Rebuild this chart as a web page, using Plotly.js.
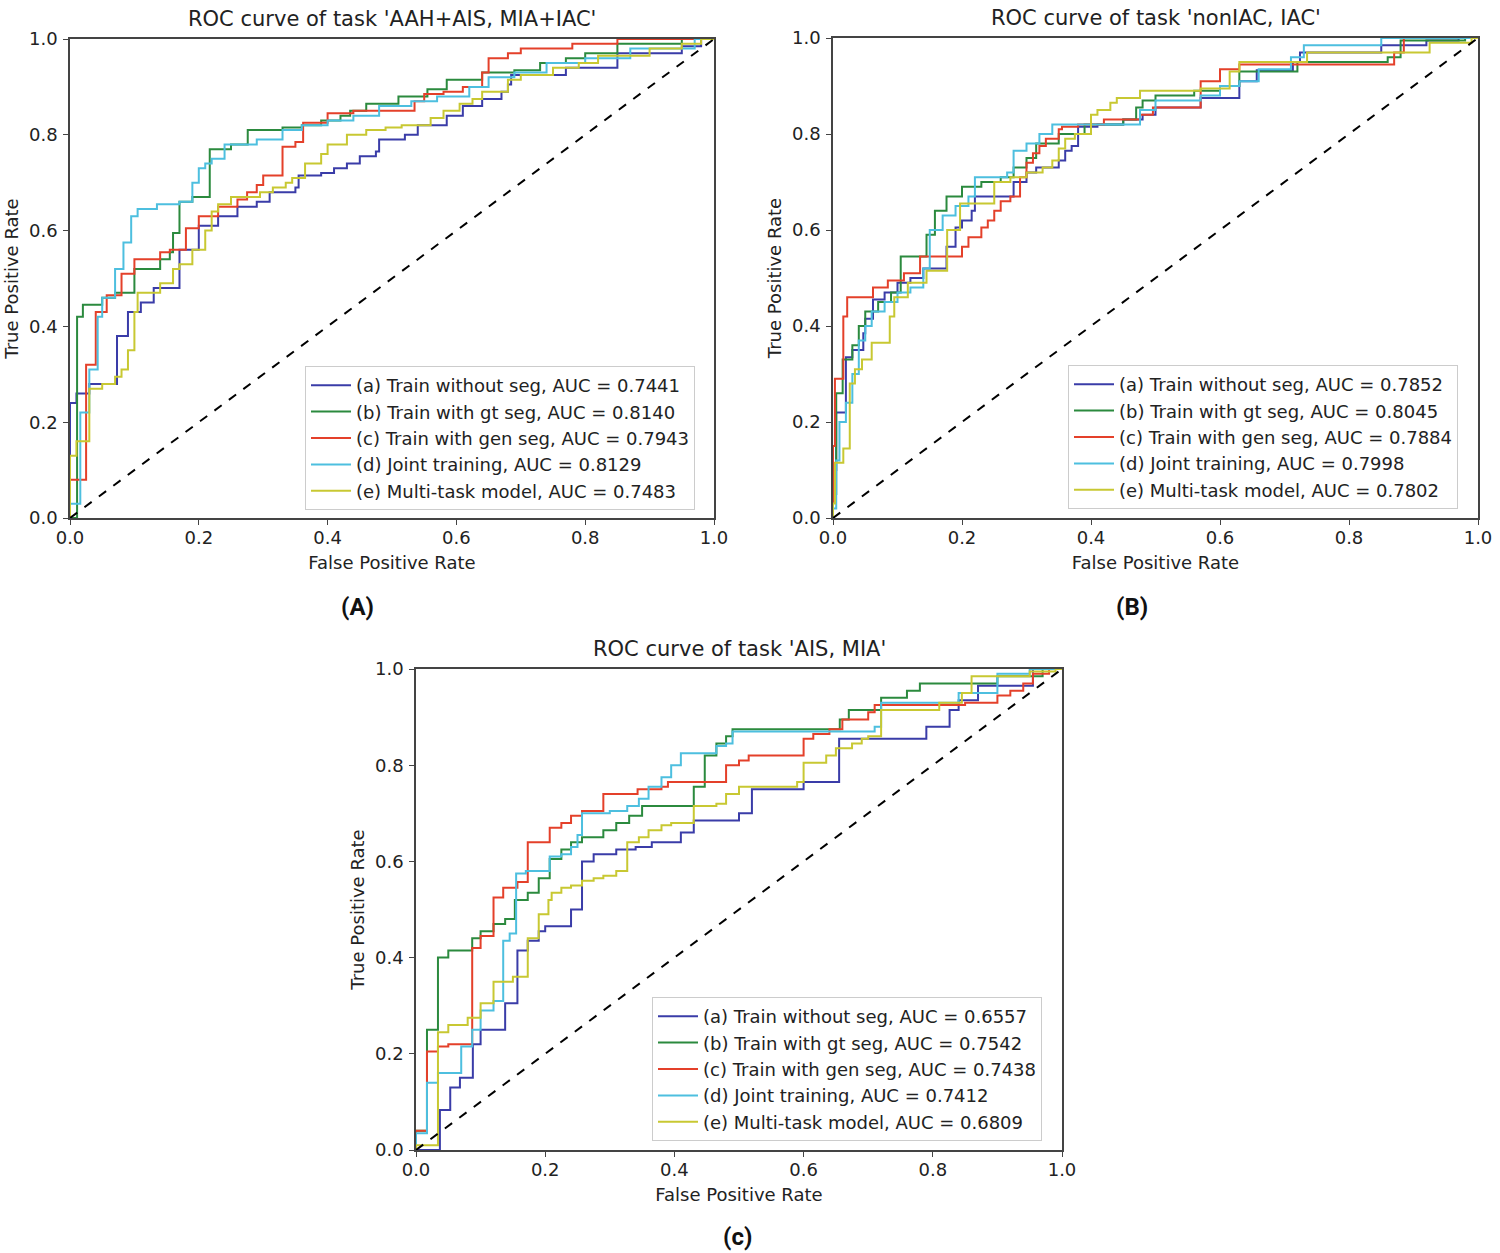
<!DOCTYPE html>
<html>
<head>
<meta charset="utf-8">
<script src="https://cdn.plot.ly/plotly-3.0.1.min.js"></script>
<style>
    body { margin: 0; background: #fff; }
    #chart { width: 1500px; height: 1253px; }
</style>
</head>
<body>
<div id="chart"></div>
<script>
// Tick labels shared by every axis
const tickVals = [0, 0.2, 0.4, 0.6, 0.8, 1.0];
const tickText = ["0.0", "0.2", "0.4", "0.6", "0.8", "1.0"];

// Chance line
const diagX = [0, 1];
const diagY = [0, 1];

// Panel titles and captions
const panelTitles = ["ROC curve of task 'AAH+AIS, MIA+IAC'", "ROC curve of task 'nonIAC, IAC'", "ROC curve of task 'AIS, MIA'"];
const panelCaptions = ["(A)", "(B)", "(c)"];
const modelNames = ["(a) Train without seg", "(b) Train with gt seg", "(c) Train with gen seg", "(d) Joint training", "(e) Multi-task model"];

// AUC values read from the legends
const aucA = ["0.7441", "0.8140", "0.7943", "0.8129", "0.7483"];
const aucB = ["0.7852", "0.8045", "0.7884", "0.7998", "0.7802"];
const aucC = ["0.6557", "0.7542", "0.7438", "0.7412", "0.6809"];

// Panel A: 'AAH+AIS, MIA+IAC'  (step points: x where the curve jumps, y after the jump)
const fprA_a = [0, 0, 0.01, 0.03, 0.073, 0.09, 0.11, 0.13, 0.17, 0.20, 0.23, 0.26, 0.29, 0.31, 0.35, 0.355, 0.39, 0.41, 0.43, 0.45, 0.475, 0.48, 0.52, 0.54, 0.585, 0.61, 0.64, 0.67, 0.68, 0.685, 0.77, 0.85, 0.95, 0.98, 1];
const tprA_a = [0, 0.24, 0.26, 0.28, 0.38, 0.43, 0.45, 0.48, 0.56, 0.61, 0.63, 0.65, 0.66, 0.68, 0.69, 0.715, 0.72, 0.73, 0.74, 0.755, 0.765, 0.79, 0.80, 0.82, 0.84, 0.86, 0.875, 0.89, 0.905, 0.925, 0.94, 0.97, 0.985, 1.0, 1];
const fprA_b = [0, 0.011, 0.02, 0.05, 0.07, 0.10, 0.14, 0.155, 0.16, 0.17, 0.19, 0.217, 0.25, 0.276, 0.33, 0.36, 0.39, 0.42, 0.435, 0.46, 0.51, 0.555, 0.585, 0.64, 0.69, 0.73, 0.77, 0.80, 0.85, 0.95, 1];
const tprA_b = [0, 0.42, 0.445, 0.46, 0.47, 0.52, 0.54, 0.555, 0.595, 0.66, 0.67, 0.77, 0.78, 0.81, 0.815, 0.82, 0.83, 0.84, 0.85, 0.865, 0.88, 0.895, 0.915, 0.93, 0.935, 0.95, 0.96, 0.97, 0.99, 1.0, 1];
const fprA_c = [0, 0, 0.025, 0.04, 0.057, 0.08, 0.10, 0.14, 0.155, 0.18, 0.20, 0.23, 0.26, 0.275, 0.29, 0.30, 0.33, 0.35, 0.362, 0.40, 0.44, 0.535, 0.55, 0.58, 0.61, 0.64, 0.65, 0.68, 0.70, 0.78, 0.85, 1];
const tprA_c = [0, 0.08, 0.32, 0.43, 0.465, 0.51, 0.54, 0.555, 0.56, 0.605, 0.63, 0.65, 0.665, 0.68, 0.695, 0.715, 0.775, 0.785, 0.825, 0.845, 0.85, 0.87, 0.885, 0.89, 0.90, 0.93, 0.96, 0.97, 0.98, 0.99, 1.0, 1];
const fprA_d = [0, 0, 0.016, 0.03, 0.043, 0.05, 0.07, 0.083, 0.095, 0.105, 0.135, 0.17, 0.19, 0.20, 0.21, 0.22, 0.24, 0.29, 0.33, 0.36, 0.40, 0.44, 0.48, 0.53, 0.57, 0.62, 0.65, 0.69, 0.74, 0.80, 0.87, 0.97, 1];
const tprA_d = [0, 0.03, 0.22, 0.31, 0.42, 0.46, 0.52, 0.575, 0.63, 0.645, 0.655, 0.66, 0.70, 0.73, 0.74, 0.75, 0.78, 0.79, 0.81, 0.82, 0.83, 0.84, 0.86, 0.87, 0.88, 0.90, 0.92, 0.93, 0.95, 0.96, 0.98, 1.0, 1];
const fprA_e = [0, 0, 0.01, 0.03, 0.05, 0.07, 0.08, 0.09, 0.10, 0.105, 0.14, 0.16, 0.17, 0.19, 0.21, 0.22, 0.23, 0.25, 0.295, 0.315, 0.335, 0.345, 0.365, 0.39, 0.40, 0.43, 0.46, 0.49, 0.515, 0.56, 0.58, 0.605, 0.625, 0.64, 0.68, 0.70, 0.75, 0.79, 0.82, 0.90, 0.95, 0.98, 1];
const tprA_e = [0, 0.13, 0.16, 0.27, 0.28, 0.295, 0.31, 0.35, 0.43, 0.47, 0.49, 0.52, 0.53, 0.56, 0.60, 0.64, 0.655, 0.67, 0.68, 0.69, 0.70, 0.71, 0.74, 0.76, 0.78, 0.80, 0.81, 0.815, 0.82, 0.835, 0.85, 0.865, 0.875, 0.89, 0.915, 0.925, 0.94, 0.95, 0.965, 0.98, 0.99, 1.0, 1];

// Panel B: 'nonIAC, IAC'
const fprB_a = [0, 0, 0.005, 0.02, 0.03, 0.047, 0.05, 0.062, 0.08, 0.10, 0.12, 0.14, 0.176, 0.19, 0.20, 0.215, 0.22, 0.28, 0.30, 0.315, 0.35, 0.36, 0.37, 0.38, 0.41, 0.45, 0.48, 0.50, 0.57, 0.63, 0.657, 0.713, 0.724, 0.85, 0.92, 0.97, 1];
const tprB_a = [0, 0.10, 0.22, 0.335, 0.35, 0.385, 0.415, 0.455, 0.47, 0.49, 0.50, 0.52, 0.565, 0.605, 0.62, 0.64, 0.67, 0.70, 0.72, 0.73, 0.745, 0.765, 0.775, 0.815, 0.82, 0.83, 0.84, 0.855, 0.875, 0.91, 0.933, 0.95, 0.97, 0.985, 0.995, 1.0, 1];
const fprB_b = [0, 0, 0.005, 0.015, 0.03, 0.04, 0.05, 0.07, 0.09, 0.105, 0.145, 0.158, 0.176, 0.20, 0.23, 0.26, 0.28, 0.30, 0.315, 0.35, 0.39, 0.45, 0.47, 0.48, 0.50, 0.56, 0.60, 0.63, 0.72, 0.86, 0.88, 0.98, 1];
const tprB_b = [0, 0.05, 0.26, 0.33, 0.36, 0.40, 0.43, 0.45, 0.47, 0.545, 0.59, 0.64, 0.67, 0.69, 0.70, 0.71, 0.73, 0.75, 0.78, 0.80, 0.82, 0.83, 0.855, 0.87, 0.88, 0.89, 0.90, 0.93, 0.95, 0.96, 0.995, 1.0, 1];
const fprB_c = [0, 0, 0.003, 0.016, 0.022, 0.062, 0.085, 0.11, 0.135, 0.20, 0.21, 0.23, 0.24, 0.25, 0.26, 0.275, 0.29, 0.30, 0.31, 0.32, 0.33, 0.35, 0.355, 0.38, 0.42, 0.476, 0.496, 0.57, 0.60, 0.63, 0.87, 0.885, 1];
const tprB_c = [0, 0.15, 0.29, 0.42, 0.46, 0.48, 0.495, 0.51, 0.545, 0.565, 0.585, 0.605, 0.62, 0.64, 0.66, 0.67, 0.71, 0.74, 0.76, 0.775, 0.79, 0.81, 0.815, 0.82, 0.83, 0.84, 0.855, 0.91, 0.935, 0.945, 0.97, 1.0, 1];
const fprB_d = [0, 0, 0.005, 0.01, 0.02, 0.03, 0.04, 0.05, 0.06, 0.08, 0.10, 0.12, 0.14, 0.15, 0.17, 0.19, 0.21, 0.22, 0.27, 0.28, 0.30, 0.32, 0.34, 0.476, 0.50, 0.57, 0.60, 0.63, 0.66, 0.71, 0.73, 0.85, 1];
const tprB_d = [0, 0.02, 0.12, 0.20, 0.24, 0.30, 0.37, 0.40, 0.43, 0.45, 0.47, 0.48, 0.52, 0.60, 0.63, 0.65, 0.67, 0.71, 0.72, 0.765, 0.78, 0.80, 0.82, 0.85, 0.87, 0.88, 0.90, 0.91, 0.935, 0.96, 0.985, 1.0, 1];
const fprB_e = [0, 0, 0.003, 0.016, 0.026, 0.034, 0.045, 0.06, 0.088, 0.095, 0.116, 0.145, 0.177, 0.197, 0.25, 0.275, 0.30, 0.325, 0.34, 0.35, 0.36, 0.375, 0.40, 0.41, 0.43, 0.44, 0.476, 0.57, 0.615, 0.63, 0.735, 0.925, 0.99, 1];
const tprB_e = [0, 0.03, 0.115, 0.145, 0.28, 0.31, 0.33, 0.365, 0.42, 0.46, 0.49, 0.515, 0.60, 0.655, 0.70, 0.71, 0.72, 0.73, 0.745, 0.77, 0.79, 0.80, 0.84, 0.85, 0.865, 0.875, 0.89, 0.895, 0.93, 0.95, 0.97, 0.99, 1.0, 1];

// Panel C: 'AIS, MIA'
const fprC_a = [0, 0.037, 0.053, 0.068, 0.088, 0.10, 0.138, 0.157, 0.173, 0.19, 0.20, 0.24, 0.257, 0.275, 0.31, 0.34, 0.365, 0.41, 0.43, 0.50, 0.52, 0.60, 0.655, 0.79, 0.826, 0.84, 0.87, 0.955, 1];
const tprC_a = [0, 0.083, 0.13, 0.15, 0.22, 0.25, 0.305, 0.415, 0.435, 0.455, 0.465, 0.50, 0.60, 0.615, 0.625, 0.63, 0.64, 0.66, 0.685, 0.70, 0.75, 0.765, 0.855, 0.88, 0.915, 0.935, 0.965, 1.0, 1];
const fprC_b = [0, 0, 0.017, 0.034, 0.05, 0.087, 0.10, 0.12, 0.138, 0.153, 0.173, 0.19, 0.207, 0.225, 0.24, 0.257, 0.29, 0.31, 0.33, 0.35, 0.43, 0.447, 0.465, 0.48, 0.49, 0.656, 0.67, 0.72, 0.76, 0.78, 0.90, 0.97, 1];
const tprC_b = [0, 0.04, 0.25, 0.40, 0.415, 0.44, 0.455, 0.47, 0.48, 0.52, 0.535, 0.565, 0.605, 0.625, 0.64, 0.65, 0.665, 0.68, 0.695, 0.715, 0.755, 0.82, 0.845, 0.86, 0.875, 0.895, 0.915, 0.94, 0.955, 0.97, 0.985, 1.0, 1];
const fprC_c = [0, 0, 0.017, 0.034, 0.05, 0.087, 0.10, 0.12, 0.135, 0.157, 0.173, 0.207, 0.225, 0.24, 0.257, 0.29, 0.343, 0.38, 0.39, 0.48, 0.50, 0.515, 0.60, 0.615, 0.64, 0.66, 0.70, 0.71, 0.85, 0.90, 0.92, 0.94, 0.955, 0.98, 1];
const tprC_c = [0, 0.04, 0.205, 0.215, 0.22, 0.42, 0.445, 0.525, 0.545, 0.557, 0.64, 0.67, 0.68, 0.695, 0.705, 0.74, 0.75, 0.755, 0.765, 0.80, 0.81, 0.82, 0.855, 0.865, 0.875, 0.895, 0.91, 0.925, 0.93, 0.945, 0.955, 0.97, 0.99, 1.0, 1];
const fprC_d = [0, 0, 0.017, 0.034, 0.07, 0.087, 0.10, 0.12, 0.135, 0.145, 0.155, 0.17, 0.207, 0.225, 0.24, 0.25, 0.257, 0.30, 0.327, 0.345, 0.36, 0.38, 0.395, 0.41, 0.465, 0.48, 0.49, 0.71, 0.72, 0.84, 0.90, 0.95, 1];
const tprC_d = [0, 0.035, 0.14, 0.16, 0.215, 0.25, 0.29, 0.31, 0.435, 0.45, 0.575, 0.58, 0.61, 0.615, 0.63, 0.655, 0.70, 0.705, 0.715, 0.73, 0.755, 0.775, 0.80, 0.825, 0.84, 0.845, 0.87, 0.88, 0.93, 0.95, 0.99, 1.0, 1];
const fprC_e = [0, 0, 0.034, 0.05, 0.08, 0.10, 0.12, 0.15, 0.173, 0.19, 0.205, 0.21, 0.225, 0.24, 0.257, 0.275, 0.29, 0.31, 0.327, 0.345, 0.36, 0.38, 0.395, 0.43, 0.465, 0.48, 0.50, 0.59, 0.60, 0.635, 0.65, 0.675, 0.69, 0.70, 0.72, 0.81, 0.845, 0.86, 0.95, 0.99, 1];
const tprC_e = [0, 0.01, 0.245, 0.26, 0.275, 0.305, 0.35, 0.36, 0.44, 0.49, 0.52, 0.535, 0.545, 0.55, 0.56, 0.565, 0.57, 0.58, 0.64, 0.65, 0.665, 0.675, 0.68, 0.715, 0.72, 0.74, 0.755, 0.765, 0.805, 0.82, 0.835, 0.845, 0.855, 0.86, 0.915, 0.93, 0.95, 0.985, 0.995, 1.0, 1];

// matplotlib-style b, g, r, c, y
const curveColors = ["#3a3ca8", "#2b8a3e", "#e4402a", "#4dbfdf", "#c8c832"];

document.addEventListener("DOMContentLoaded", () => {
    const FONT = "DejaVu Sans, Verdana, sans-serif";
    const W = 1500, H = 1253;

    // pixel boxes of the three plot areas: [left, right, top, bottom]
    const boxes = [[70, 714, 39, 518], [833, 1478, 38, 518], [416, 1062, 669, 1150]];
    const legendPos = [[305, 366], [1068, 365], [652, 997]];
    const captionPos = [[357, 607], [1132, 607], [737, 1237]];

    const panels = [
        { fpr: [fprA_a, fprA_b, fprA_c, fprA_d, fprA_e], tpr: [tprA_a, tprA_b, tprA_c, tprA_d, tprA_e], auc: aucA },
        { fpr: [fprB_a, fprB_b, fprB_c, fprB_d, fprB_e], tpr: [tprB_a, tprB_b, tprB_c, tprB_d, tprB_e], auc: aucB },
        { fpr: [fprC_a, fprC_b, fprC_c, fprC_d, fprC_e], tpr: [tprC_a, tprC_b, tprC_c, tprC_d, tprC_e], auc: aucC }
    ];

    const data = [];
    const layout = {
        width: W, height: H,
        margin: { l: 0, r: 0, t: 0, b: 0 },
        paper_bgcolor: "#fff", plot_bgcolor: "#fff",
        font: { family: FONT, size: 18, color: "#222" },
        showlegend: true,
        annotations: []
    };

    panels.forEach((p, i) => {
        const s = i === 0 ? "" : String(i + 1);
        const [l, r, t, b] = boxes[i];

        // curves
        p.fpr.forEach((xs, k) => {
            data.push({
                x: xs, y: p.tpr[k], type: "scatter", mode: "lines",
                xaxis: "x" + s, yaxis: "y" + s, legend: "legend" + s,
                name: modelNames[k] + ", AUC = " + p.auc[k],
                line: { color: curveColors[k], width: 2, shape: "hv" }
            });
        });
        // chance diagonal
        data.push({
            x: diagX, y: diagY, type: "scatter", mode: "lines",
            xaxis: "x" + s, yaxis: "y" + s, showlegend: false,
            line: { color: "#000", width: 2, dash: "dash" }
        });

        const axisCommon = {
            range: [0, 1], showgrid: false, zeroline: false,
            showline: true, mirror: true, linecolor: "#444", linewidth: 1.5,
            ticks: "outside", ticklen: 5, tickcolor: "#444",
            tickvals: tickVals, ticktext: tickText,
            tickfont: { family: FONT, size: 18, color: "#222" }
        };
        layout["xaxis" + s] = Object.assign({}, axisCommon, {
            domain: [l / W, r / W], anchor: "y" + s, ticklabelstandoff: -2,
            title: { text: "False Positive Rate", font: { size: 18 }, standoff: 9 }
        });
        layout["yaxis" + s] = Object.assign({}, axisCommon, {
            domain: [(H - b) / H, (H - t) / H], anchor: "x" + s, ticklabelstandoff: 2,
            title: { text: "True Positive Rate", font: { size: 18 }, standoff: 6 }
        });

        layout["legend" + s] = {
            x: legendPos[i][0] / W, y: (H - legendPos[i][1]) / H,
            xanchor: "left", yanchor: "top", itemwidth: 40,
            bgcolor: "rgba(255,255,255,0.85)", bordercolor: "#ccc", borderwidth: 1,
            font: { family: FONT, size: 18, color: "#222" }
        };

        // panel title
        layout.annotations.push({
            text: panelTitles[i], xref: "paper", yref: "paper",
            x: (l + r) / 2 / W, y: (H - (t - 20)) / H,
            xanchor: "center", yanchor: "middle", showarrow: false,
            font: { family: FONT, size: 21, color: "#222" }
        });
        // caption under each panel
        layout.annotations.push({
            text: "<b>" + panelCaptions[i] + "</b>", xref: "paper", yref: "paper",
            x: captionPos[i][0] / W, y: (H - captionPos[i][1]) / H,
            xanchor: "center", yanchor: "middle", showarrow: false,
            font: { family: "Liberation Sans Narrow, Roboto, sans-serif", size: 24, color: "#111" }
        });
    });

    Plotly.newPlot("chart", data, layout, { displayModeBar: false });
});
</script>
</body>
</html>
